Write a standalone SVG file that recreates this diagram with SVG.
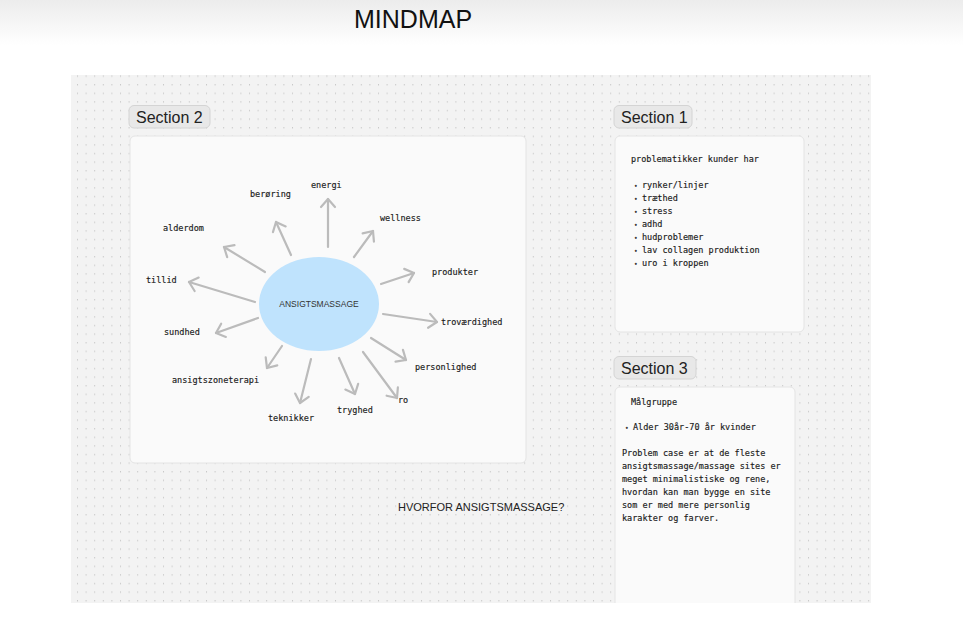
<svg xmlns="http://www.w3.org/2000/svg" width="963" height="625" viewBox="0 0 963 625">
<defs>
<linearGradient id="hdr" x1="0" y1="0" x2="0" y2="1">
<stop offset="0" stop-color="#ececec"/>
<stop offset="1" stop-color="#ffffff"/>
</linearGradient>
<pattern id="dots" x="77" y="84" width="8.6" height="8.6" patternUnits="userSpaceOnUse">
<rect x="0" y="0" width="1" height="1.4" fill="#c8c8c8"/>
</pattern>
<marker id="chev" markerUnits="userSpaceOnUse" markerWidth="24" markerHeight="24" viewBox="-12 -12 24 24" refX="0" refY="0" orient="auto" overflow="visible">
<path d="M-8,-7 L0,0 L-8,7" fill="none" stroke="#bbbbbb" stroke-width="2.2" stroke-linecap="round" stroke-linejoin="round"/>
</marker>
</defs>
<style>
.pill{fill:#e8e8e8;stroke:#d4d4d4;stroke-width:1}
.pilltxt{font-family:"Liberation Sans",Arial,sans-serif;font-size:16px;fill:#222}
.box{fill:#fafafa;stroke:#e4e4e4;stroke-width:1}
.mono{font-family:"DejaVu Sans Mono","Liberation Mono",monospace;font-size:8.5px;fill:#1a1a1a;stroke:#1a1a1a;stroke-width:0.15}
.lbl{font-family:"DejaVu Sans Mono","Liberation Mono",monospace;font-size:8.5px;fill:#1a1a1a;stroke:#1a1a1a;stroke-width:0.15}
.arr{stroke:#bbbbbb;stroke-width:2.2;fill:none;stroke-linecap:round;marker-end:url(#chev)}
.sans{font-family:"Liberation Sans",Arial,sans-serif}
</style>
<rect width="963" height="625" fill="#ffffff"/>
<rect width="963" height="45" fill="url(#hdr)"/>
<text x="354" y="28" class="sans" font-size="25" fill="#111">MINDMAP</text>

<g id="canvas">
<rect x="71" y="75" width="800" height="528" fill="#f3f3f3"/>
<rect x="71" y="75" width="800" height="528" fill="url(#dots)"/>
</g>

<g id="section2">
<rect class="pill" x="129" y="105.5" width="81" height="22.5" rx="5"/>
<text class="pilltxt" x="136" y="122.5">Section 2</text>
<rect class="box" x="130" y="136" width="396" height="327" rx="5"/>
</g>

<g id="connectors">
<line class="arr" x1="328" y1="247" x2="328" y2="199"/>
<line class="arr" x1="291" y1="255" x2="276" y2="222"/>
<line class="arr" x1="265" y1="272" x2="224" y2="247"/>
<line class="arr" x1="255" y1="302" x2="189" y2="282"/>
<line class="arr" x1="258" y1="318" x2="216" y2="333"/>
<line class="arr" x1="282" y1="346" x2="267" y2="368"/>
<line class="arr" x1="311" y1="359" x2="300" y2="403"/>
<line class="arr" x1="339" y1="358" x2="355" y2="394"/>
<line class="arr" x1="363" y1="352" x2="397" y2="398"/>
<line class="arr" x1="371" y1="338" x2="406" y2="360"/>
<line class="arr" x1="383" y1="314" x2="437" y2="322"/>
<line class="arr" x1="381" y1="284" x2="414" y2="273"/>
<line class="arr" x1="354" y1="257" x2="373" y2="231"/>
</g>

<g id="center">
<ellipse cx="319" cy="304" rx="60" ry="47" fill="#bfe3fd"/>
<text x="319" y="307" class="sans" font-size="8.5" fill="#333" text-anchor="middle">ANSIGTSMASSAGE</text>
</g>

<g id="labels">
<text class="lbl" x="311" y="188">energi</text>
<text class="lbl" x="250" y="197">berøring</text>
<text class="lbl" x="163" y="231">alderdom</text>
<text class="lbl" x="146" y="283">tillid</text>
<text class="lbl" x="380" y="221">wellness</text>
<text class="lbl" x="432" y="275">produkter</text>
<text class="lbl" x="441" y="325">troværdighed</text>
<text class="lbl" x="415" y="370">personlighed</text>
<text class="lbl" x="398" y="403">ro</text>
<text class="lbl" x="337" y="413">tryghed</text>
<text class="lbl" x="268" y="421">teknikker</text>
<text class="lbl" x="172" y="383">ansigtszoneterapi</text>
<text class="lbl" x="164" y="335">sundhed</text>
</g>

<g id="section1">
<rect class="pill" x="614" y="105.5" width="78" height="22.5" rx="5"/>
<text class="pilltxt" x="621" y="122.5">Section 1</text>
<rect class="box" x="615" y="136" width="189" height="196" rx="5"/>
<text class="mono" x="631" y="162">problematikker kunder har</text>
<text class="mono" y="188">
<tspan x="634" font-size="6">•</tspan><tspan x="642" dy="0">rynker/linjer</tspan>
<tspan x="634" dy="13" font-size="6">•</tspan><tspan x="642">træthed</tspan>
<tspan x="634" dy="13" font-size="6">•</tspan><tspan x="642">stress</tspan>
<tspan x="634" dy="13" font-size="6">•</tspan><tspan x="642">adhd</tspan>
<tspan x="634" dy="13" font-size="6">•</tspan><tspan x="642">hudproblemer</tspan>
<tspan x="634" dy="13" font-size="6">•</tspan><tspan x="642">lav collagen produktion</tspan>
<tspan x="634" dy="13" font-size="6">•</tspan><tspan x="642">uro i kroppen</tspan>
</text>
</g>

<g id="section3">
<rect class="pill" x="614" y="356.5" width="82" height="22.5" rx="5"/>
<text class="pilltxt" x="621" y="373.5">Section 3</text>
<path class="box" d="M615,603 V392 a5,5 0 0 1 5,-5 H790 a5,5 0 0 1 5,5 V603"/>
<text class="mono" x="631" y="405">Målgruppe</text>
<text class="mono" y="430"><tspan x="625" font-size="6">•</tspan><tspan x="633">Alder 30år-70 år kvinder</tspan></text>
<text class="mono" x="622" y="456">Problem case er at de fleste</text>
<text class="mono" x="622" y="469">ansigtsmassage/massage sites er</text>
<text class="mono" x="622" y="482">meget minimalistiske og rene,</text>
<text class="mono" x="622" y="495">hvordan kan man bygge en site</text>
<text class="mono" x="622" y="508">som er med mere personlig</text>
<text class="mono" x="622" y="521">karakter og farver.</text>
</g>

<g id="question">
<text x="398" y="511" class="sans" font-size="11" fill="#222">HVORFOR ANSIGTSMASSAGE?</text>
</g>
</svg>
